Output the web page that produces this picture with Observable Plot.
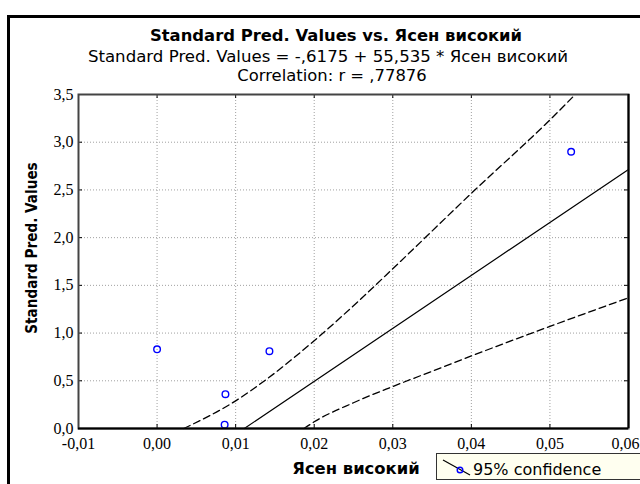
<!DOCTYPE html>
<html>
<head>
<meta charset="utf-8">
<script src="https://cdn.jsdelivr.net/npm/d3@7"></script>
<script src="https://cdn.jsdelivr.net/npm/@observablehq/plot@0.6"></script>
<style>
  html, body { margin: 0; padding: 0; background: #fff; }
  #wrap { position: relative; width: 640px; height: 484px; overflow: hidden; background: #fff; }
  .t { position: absolute; font-family: "DejaVu Sans", sans-serif; font-size: 16px; line-height: 16px; white-space: nowrap; color: #000; }
  #border { position: absolute; left: 7px; top: 15px; width: 800px; height: 600px; border: 3px solid #000; box-sizing: border-box; z-index: 5; pointer-events: none; }
  #legend { position: absolute; left: 436px; top: 453px; width: 260px; height: 27px; border: 1px solid #333; background: #fffff0; box-sizing: border-box; z-index: 4; }
</style>
</head>
<body>
<div id="wrap">
  <div id="chart" style="position:absolute;left:0;top:0;"></div>
  <div class="t" style="left:36px;width:600px;text-align:center;top:28px;font-weight:bold;font-size:16.4px;">Standard Pred. Values vs. Ясен високий</div>
  <div class="t" style="left:28px;width:600px;text-align:center;top:49px;font-size:16.6px;">Standard Pred. Values = -,6175 + 55,535 * Ясен високий</div>
  <div class="t" style="left:32px;width:600px;text-align:center;top:67.5px;font-size:16.4px;">Correlation: r = ,77876</div>
  <div class="t" style="left:-118px;width:300px;text-align:center;top:240px;font-weight:bold;font-size:16px;line-height:16px;transform:rotate(-90deg) scaleX(0.85);">Standard Pred. Values</div>
  <div class="t" style="left:206px;width:300px;text-align:center;top:460.5px;font-weight:bold;font-size:16.4px;">Ясен високий</div>
  <div id="legend">
    <svg width="40" height="27" style="position:absolute;left:0;top:0;">
      <line x1="6" y1="6" x2="33" y2="21" stroke="#000" stroke-width="1.2"></line>
      <circle cx="23" cy="16" r="2.8" fill="none" stroke="#0000ff" stroke-width="1.4"></circle>
    </svg>
    <div class="t" style="left:36px;top:7.5px;font-size:16px;">95% confidence</div>
  </div>
  <div id="border"></div>
</div>
<script>
// Tick values
const xTicks = [-0.01, 0.00, 0.01, 0.02, 0.03, 0.04, 0.05, 0.06];
const yTicks = [0, 0.5, 1.0, 1.5, 2.0, 2.5, 3.0, 3.5];

// Observed points (Ясен високий, Standard Pred. Values)
const pointX = [0.0000, 0.0087, 0.0086, 0.0143, 0.0527];
const pointY = [0.83, 0.36, 0.04, 0.81, 2.90];

// Regression line (visible segment)
const fitX = [0.0111, 0.0600];
const fitY = [0.000, 2.715];

// 95% confidence band, upper
const upperX = [0.0034, 0.0100, 0.0140, 0.0200, 0.0257, 0.0302, 0.0402, 0.0502, 0.0531];
const upperY = [0.00, 0.29, 0.52, 0.92, 1.34, 1.69, 2.48, 3.25, 3.49];

// 95% confidence band, lower
const lowerX = [0.0187, 0.0200, 0.0250, 0.0300, 0.0350, 0.0400, 0.0500, 0.0600];
const lowerY = [0.00, 0.07, 0.27, 0.44, 0.60, 0.76, 1.07, 1.37];

const points = pointX.map((x, i) => ({x, y: pointY[i]}));
const fit = fitX.map((x, i) => ({x, y: fitY[i]}));
const upper = upperX.map((x, i) => ({x, y: upperY[i]}));
const lower = lowerX.map((x, i) => ({x, y: lowerY[i]}));

const comma = (f) => (d) => d3.format(f)(d).replace(".", ",").replace("−", "-");

const W = 640, H = 484;
const mL = 78, mR = 12, mT = 94, mB = 56;
const innerW = W - mL - mR, innerH = H - mT - mB;
const xMain = xTicks.slice(0, -1);
const xLast = xTicks.slice(-1);

const chart = Plot.plot({
  width: W,
  height: H,
  marginLeft: mL,
  marginRight: mR,
  marginTop: mT,
  marginBottom: mB,
  style: {background: "transparent", fontFamily: "'Liberation Serif', 'Times New Roman', serif", fontSize: "16px", color: "#000"},
  x: {domain: [-0.01, 0.06], ticks: xTicks, tickFormat: comma(".2f"), label: null},
  y: {domain: [0, 3.5], ticks: yTicks, tickFormat: comma(".1f"), label: null},
  marks: [
    Plot.gridX(xTicks, {stroke: "#a0a0a0", strokeOpacity: 1, strokeDasharray: "1,2"}),
    Plot.gridY(yTicks, {stroke: "#a0a0a0", strokeOpacity: 1, strokeDasharray: "1,2"}),
    Plot.axisX(xMain, {tickSize: 0, tickPadding: 9, tickFormat: comma(".2f"), label: null, fill: "#000", fontSize: 16}),
    Plot.axisX(xLast, {tickSize: 0, tickPadding: 9, tickFormat: comma(".2f"), label: null, fill: "#000", fontSize: 16, textAnchor: "end", dx: 11}),
    Plot.axisY(yTicks, {tickSize: 0, tickPadding: 5, tickFormat: comma(".1f"), label: null, fill: "#000", fontSize: 16}),
    // inward ticks on all four sides
    Plot.tickX(xTicks, {x: d => d, insetTop: innerH - 4, stroke: "#000"}),
    Plot.tickX(xTicks, {x: d => d, insetBottom: innerH - 4, stroke: "#000"}),
    Plot.tickY(yTicks, {y: d => d, insetRight: innerW - 4, stroke: "#000"}),
    Plot.tickY(yTicks, {y: d => d, insetLeft: innerW - 4, stroke: "#000"}),
    Plot.line(upper, {x: "x", y: "y", curve: "monotone-x", stroke: "#000", strokeWidth: 1.3, strokeDasharray: "7,4"}),
    Plot.line(lower, {x: "x", y: "y", curve: "monotone-x", stroke: "#000", strokeWidth: 1.3, strokeDasharray: "7,4"}),
    Plot.line(fit, {x: "x", y: "y", stroke: "#000", strokeWidth: 1.2}),
    Plot.dot(points, {x: "x", y: "y", r: 3.3, stroke: "#0000ff", strokeWidth: 1.4, fill: "none"}),
    Plot.frame({stroke: "#444", strokeWidth: 2}),
    Plot.ruleY([0], {stroke: "#000", strokeWidth: 2}),
    Plot.ruleX([0.06], {stroke: "#000", strokeWidth: 2})
  ]
});
document.getElementById("chart").appendChild(chart);
</script>
</body>
</html>
